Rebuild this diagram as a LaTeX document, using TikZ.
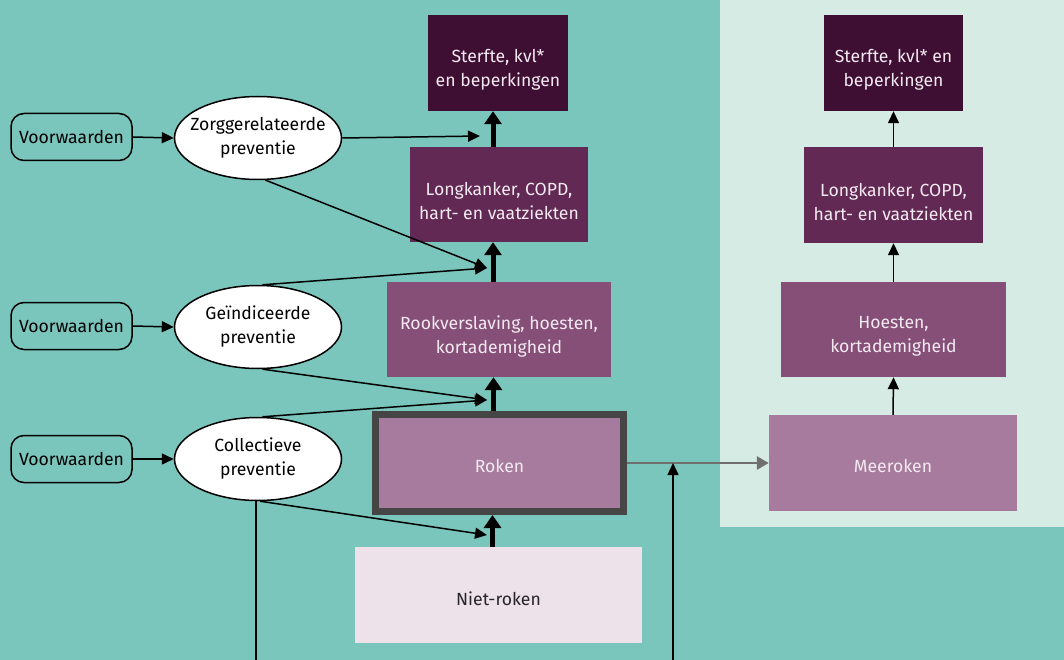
\documentclass[tikz,border=0pt]{standalone}
\usepackage{fontspec}
\setmainfont{Fira Sans}
\usetikzlibrary{arrows.meta,shapes.geometric}
\definecolor{bg}{HTML}{7BC6BC}
\definecolor{panel}{HTML}{D7EBE5}
\definecolor{cA}{HTML}{3E0E33}
\definecolor{cB}{HTML}{612953}
\definecolor{cC}{HTML}{864F77}
\definecolor{cD}{HTML}{A77B9D}
\definecolor{cE}{HTML}{EDE2EA}
\definecolor{rim}{HTML}{454545}
\definecolor{garrow}{HTML}{6F6F6F}
\definecolor{btext}{HTML}{F3EAF1}
\begin{document}
\begin{tikzpicture}[x=1pt,y=-1pt,
  font=\fontsize{17.6}{24}\selectfont,
  box/.style={rectangle, inner sep=0pt},
  txt/.style={align=center, text=btext, inner sep=0pt},
  ell/.style={ellipse, draw=black, line width=1.5pt, fill=white, minimum width=167pt, minimum height=83pt, inner xsep=-14pt, inner ysep=0pt, align=center},
  voor/.style={rectangle, rounded corners=13pt, draw=black, line width=1.5pt, minimum width=121pt, minimum height=47pt, inner sep=0pt},
  thin/.style={line width=1.5pt, -{Triangle[length=12pt,width=11pt]}},
  thick/.style={line width=5pt, -{Triangle[length=13pt,width=17pt]}},
  grey/.style={draw=garrow, line width=2.8pt, -{Triangle[length=12pt,width=13pt]}}
]
\fill[bg] (0,0) rectangle (1064,660);
\useasboundingbox (0,0) rectangle (1064,660);
\fill[panel] (720,0) rectangle (1064,527);

% left column
\node[box, fill=cA, minimum width=140pt, minimum height=96pt] (s1) at (498,63) {};
\node[box, fill=cB, minimum width=178pt, minimum height=95pt] (l1) at (499,194.5) {};
\node[box, fill=cC, minimum width=224pt, minimum height=95pt] (r1) at (499,329.5) {};
\node[box, fill=cD, draw=rim, line width=7pt, minimum width=248pt, minimum height=97pt] (rk) at (499.5,463) {};
\node[box, fill=cE, minimum width=287pt, minimum height=96pt] (nr) at (498.5,595) {};
\node[txt] at ([yshift=-7pt]s1.center) {Sterfte, kvl*\\en beperkingen};
\node[txt] at ([yshift=-7pt]l1.center) {Longkanker, COPD,\\hart- en vaatziekten};
\node[txt] at ([yshift=-7pt]r1.center) {Rookverslaving, hoesten,\\kortademigheid};
\node[txt] at ([yshift=-3pt]rk.center) {Roken};
\node[txt, text=black!85] at ([yshift=-4pt]nr.center) {Niet-roken};

% right column
\node[box, fill=cA, minimum width=139pt, minimum height=96pt] (s2) at (893.5,63) {};
\node[box, fill=cB, minimum width=179pt, minimum height=96pt] (l2) at (893.5,195) {};
\node[box, fill=cC, minimum width=225pt, minimum height=95pt] (h2) at (893.5,329.5) {};
\node[box, fill=cD, minimum width=248pt, minimum height=96pt] (m2) at (893,463) {};
\node[txt] at ([yshift=-7pt]s2.center) {Sterfte, kvl* en\\beperkingen};
\node[txt] at ([yshift=-7pt]l2.center) {Longkanker, COPD,\\hart- en vaatziekten};
\node[txt] at ([yshift=-7pt]h2.center) {Hoesten,\\kortademigheid};
\node[txt] at ([yshift=-3pt]m2.center) {Meeroken};

% ellipses
\node[ell] (e1) at (258,138) {Zorggerelateerde\\preventie};
\node[ell] (e2) at (258,327) {Geïndiceerde\\preventie};
\node[ell] (e3) at (258,459) {Collectieve\\preventie};

% voorwaarden
\node[voor] (v1) at (71.5,137) {Voorwaarden};
\node[voor] (v2) at (71.5,326) {Voorwaarden};
\node[voor] (v3) at (71.5,459) {Voorwaarden};

% targets
\coordinate (t1) at (480,136);
\coordinate (t2) at (487,268);
\coordinate (t3) at (487,400);
\coordinate (t4) at (487,535);
\coordinate (b1) at (255,662);
\coordinate (b2) at (673,662);

% thick arrows
\draw[thick] ([xshift=-6pt]nr.north) -- ([xshift=-6pt]nr.north |- rk.south);
\draw[thick] ([xshift=-6pt]rk.north) -- ([xshift=-6pt]rk.north |- r1.south);
\draw[thick] ([xshift=-6pt]r1.north) -- ([xshift=-6pt]r1.north |- l1.south);
\draw[thick] ([xshift=-6pt]l1.north) -- ([xshift=-6pt]l1.north |- s1.south);

% right arrows
\draw[thin] (l2.north) -- (s2.south);
\draw[thin] (h2.north) -- (l2.south);
\draw[thin] (m2.north) -- (h2.south);

% voorwaarden arrows
\draw[thin] (v1.east) -- (e1.west);
\draw[thin] (v2.east) -- (e2.west);
\draw[thin] (v3.east) -- (e3.west);

% prevention arrows
\draw[thin] (e1.east) -- (t1);
\draw[thin] (e1.-80) -- (t2);
\draw[thin] (e2.84) -- (t2);
\draw[thin] (e2.-84) -- (t3);
\draw[thin] (e3.84) -- (t3);
\draw[thin] (e3.-87) -- (t4);
\draw[line width=1.5pt] (e3.-93) -- (e3.-93 |- b1);

% grey arrow and junction
\draw[grey] (rk.east) -- (m2.west);
\draw[thin] (b2) -- (b2 |- rk.east);
\end{tikzpicture}
\end{document}
